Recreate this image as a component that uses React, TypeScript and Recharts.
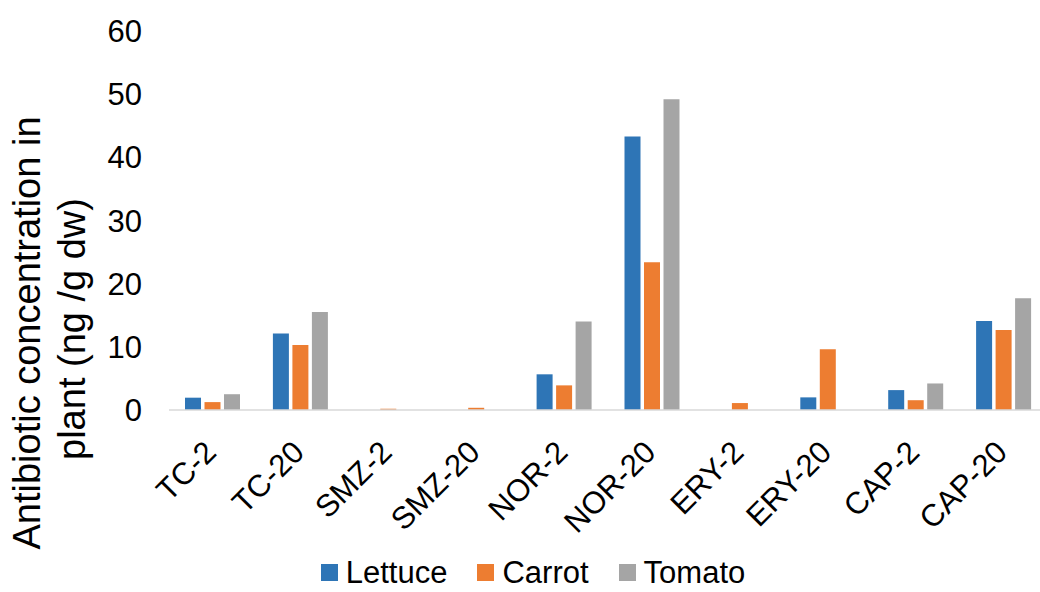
import React from 'react';
import { BarChart, Bar, XAxis, YAxis, Legend } from 'recharts';

const categories = ['TC-2', 'TC-20', 'SMZ-2', 'SMZ-20', 'NOR-2', 'NOR-20', 'ERY-2', 'ERY-20', 'CAP-2', 'CAP-20'];
const lettuce = [1.95, 12.1, 0, 0, 5.65, 43.3, 0, 2.0, 3.15, 14.1];
const carrot = [1.25, 10.3, 0.2, 0.35, 3.9, 23.4, 1.1, 9.6, 1.55, 12.65];
const tomato = [2.5, 15.5, 0, 0, 14.0, 49.2, 0, 0, 4.2, 17.7];
const yTicks = [0, 10, 20, 30, 40, 50, 60];
const seriesNames = ['Lettuce', 'Carrot', 'Tomato'];
const colors = ['#2E75B6', '#ED7D31', '#A5A5A5'];

const data = categories.map((c, i) => ({
  name: c,
  Lettuce: lettuce[i],
  Carrot: carrot[i],
  Tomato: tomato[i],
}));

const FONT = '"Liberation Sans", Arial, sans-serif';

const XTick = (props: any) => {
  const { x, y, payload } = props;
  return (
    <g transform={`translate(${x + 5},${y + 44}) rotate(-45)`}>
      <text x={0} y={0} textAnchor="end" fontSize={31} fontFamily={FONT} fill="#000">
        {payload.value}
      </text>
    </g>
  );
};

const YTitle = () => (
  <g>
    <text transform="rotate(-90)" x={-333} y={40} textAnchor="middle" fontSize={38} fontFamily={FONT} fill="#000">
      Antibiotic concentration in
    </text>
    <text transform="rotate(-90)" x={-329} y={85} textAnchor="middle" fontSize={38} fontFamily={FONT} fill="#000">
      plant (ng /g dw)
    </text>
  </g>
);

const LegendContent = (props: any) => {
  const { payload } = props;
  const items = seriesNames.map((s, i) => {
    const p = (payload || []).find((q: any) => q.value === s || q.dataKey === s);
    return { value: s, color: p ? p.color : colors[i] };
  });
  return (
    <div style={{ display: 'flex', justifyContent: 'center', paddingLeft: 26, fontFamily: FONT, fontSize: 31, lineHeight: 1, color: '#000' }}>
      {items.map((p, i) => (
        <div key={p.value} style={{ display: 'flex', alignItems: 'center', marginLeft: i === 0 ? 0 : 30 }}>
          <span style={{ display: 'inline-block', width: 17, height: 17, background: p.color, marginRight: 8 }} />
          <span>{p.value}</span>
        </div>
      ))}
    </div>
  );
};

export default function App() {
  return (
    <div style={{ position: 'absolute', left: 0, top: 0, width: 1040, height: 592, overflow: 'hidden', background: '#fff' }}>
      <BarChart
        width={1048}
        height={592}
        data={data}
        margin={{ top: 31, right: 0, bottom: 0, left: 0 }}
        barSize={16}
        barGap={3.5}
      >
        <XAxis
          dataKey="name"
          height={182}
          interval={0}
          tickLine={false}
          tickSize={0}
          tickMargin={0}
          axisLine={{ stroke: '#D9D9D9', strokeWidth: 1.5 }}
          tick={<XTick />}
        />
        <YAxis
          width={169}
          domain={[0, 60]}
          ticks={yTicks}
          axisLine={false}
          tickLine={false}
          tickSize={0}
          tickMargin={27}
          tick={{ fill: '#000', fontSize: 31, fontFamily: FONT }}
          label={{ content: <YTitle /> }}
        />
        <Legend
          verticalAlign="middle"
          wrapperStyle={{ top: 557, left: 0, width: 1040 }}
          content={<LegendContent />}
        />
        {seriesNames.map((s, i) => (
          <Bar key={s} dataKey={s} fill={colors[i]} isAnimationActive={false} />
        ))}
      </BarChart>
    </div>
  );
}
